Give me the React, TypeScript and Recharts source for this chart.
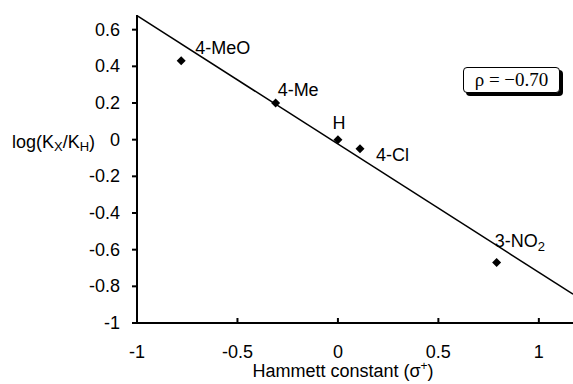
import { ScatterChart, Scatter, XAxis, YAxis, ReferenceLine } from "recharts";

// substituent data (Hammett plot)
const substituents = ["4-MeO", "4-Me", "H", "4-Cl", "3-NO2"];
const sigmaPlus = [-0.78, -0.31, 0, 0.11, 0.79];
const logKrel = [0.43, 0.2, 0, -0.05, -0.67];

// least-squares line, rho = -0.70
const fitLine = [
  { x: -1, y: 0.676 },
  { x: 1.17, y: -0.843 },
];

const xTicks = [-1, -0.5, 0, 0.5, 1];
const yTicks = [-1, -0.8, -0.6, -0.4, -0.2, 0, 0.2, 0.4, 0.6];

const points = substituents.map((name, i) => ({ name, x: sigmaPlus[i], y: logKrel[i] }));

// label placement relative to the marker
const labelPos: Record<string, { dx: number; dy: number; anchor: "start" | "middle" }> = {
  "4-MeO": { dx: 14, dy: -13, anchor: "start" },
  "4-Me": { dx: 2, dy: -13, anchor: "start" },
  H: { dx: 1, dy: -17, anchor: "middle" },
  "4-Cl": { dx: 16, dy: 6, anchor: "start" },
  "3-NO2": { dx: -2, dy: -22, anchor: "start" },
};

const SANS = "'Liberation Sans', Arial, sans-serif";

function PointShape(props: any) {
  const { cx, cy, payload } = props;
  const r = 4.5;
  const pos = labelPos[payload.name];
  const isNitro = payload.name === "3-NO2";
  return (
    <g>
      <polygon
        points={`${cx},${cy - r} ${cx + r},${cy} ${cx},${cy + r} ${cx - r},${cy}`}
        fill="#000"
      />
      <text
        x={cx + pos.dx}
        y={cy + pos.dy}
        textAnchor={pos.anchor}
        dominantBaseline="central"
        fontFamily={SANS}
        fontSize={18}
        fill="#000"
      >
        {isNitro ? (
          <>
            3-NO
            <tspan dy={5} fontSize={13}>2</tspan>
          </>
        ) : (
          payload.name
        )}
      </text>
    </g>
  );
}

function YTick(props: any) {
  const { x, y, payload } = props;
  return (
    <g>
      <text x={x} y={y} textAnchor="end" dominantBaseline="central" fontFamily={SANS} fontSize={18} fill="#000">
        {payload.value}
      </text>
      {payload.value === 0 && (
        <text x={12} y={y + 2} textAnchor="start" dominantBaseline="central" fontFamily={SANS} fontSize={18} fill="#000">
          log(K
          <tspan dy={4} fontSize={13}>X</tspan>
          <tspan dy={-4}>/K</tspan>
          <tspan dy={4} fontSize={13}>H</tspan>
          <tspan dy={-4}>)</tspan>
        </text>
      )}
    </g>
  );
}

function XTitle(props: any) {
  const { viewBox } = props;
  const cx = viewBox.x + viewBox.width / 2 - 12;
  return (
    <text x={cx} y={viewBox.y + 54} textAnchor="middle" fontFamily={SANS} fontSize={18} fill="#000">
      Hammett constant (σ
      <tspan dy={-7} fontSize={12}>+</tspan>
      <tspan dy={7}>)</tspan>
    </text>
  );
}

export default function App() {
  return (
    <div style={{ position: "absolute", left: 0, top: 0, width: 573, height: 384, background: "#fff" }}>
      <ScatterChart width={573} height={384} margin={{ top: 15, right: 0, bottom: 0, left: 0 }}>
        <XAxis
          type="number"
          dataKey="x"
          domain={[-1, 1.17]}
          ticks={xTicks}
          allowDataOverflow
          height={61}
          stroke="#000"
          strokeWidth={2}
          tickSize={-5}
          tickMargin={27}
          tick={{ fontSize: 18, fill: "#000", fontFamily: SANS }}
          label={<XTitle />}
        />
        <YAxis
          type="number"
          dataKey="y"
          domain={[-1, 0.68]}
          ticks={yTicks}
          allowDataOverflow
          width={137}
          stroke="#000"
          strokeWidth={2}
          tickSize={5}
          tickMargin={12}
          tick={<YTick />}
        />
        <ReferenceLine
          segment={fitLine}
          stroke="#000"
          strokeWidth={1.5}
          ifOverflow="visible"
        />
        <Scatter data={points} shape={<PointShape />} isAnimationActive={false} />
      </ScatterChart>
      <div
        style={{
          position: "absolute",
          left: 463,
          top: 67,
          width: 95,
          height: 24,
          border: "1.5px solid #000",
          borderRadius: 4,
          boxShadow: "3px 3px 0 #000",
          background: "#fff",
          fontFamily: "'Liberation Serif', 'Times New Roman', serif",
          fontSize: 19,
          lineHeight: "24px",
          textAlign: "center",
        }}
      >
        ρ = −0.70
      </div>
    </div>
  );
}
